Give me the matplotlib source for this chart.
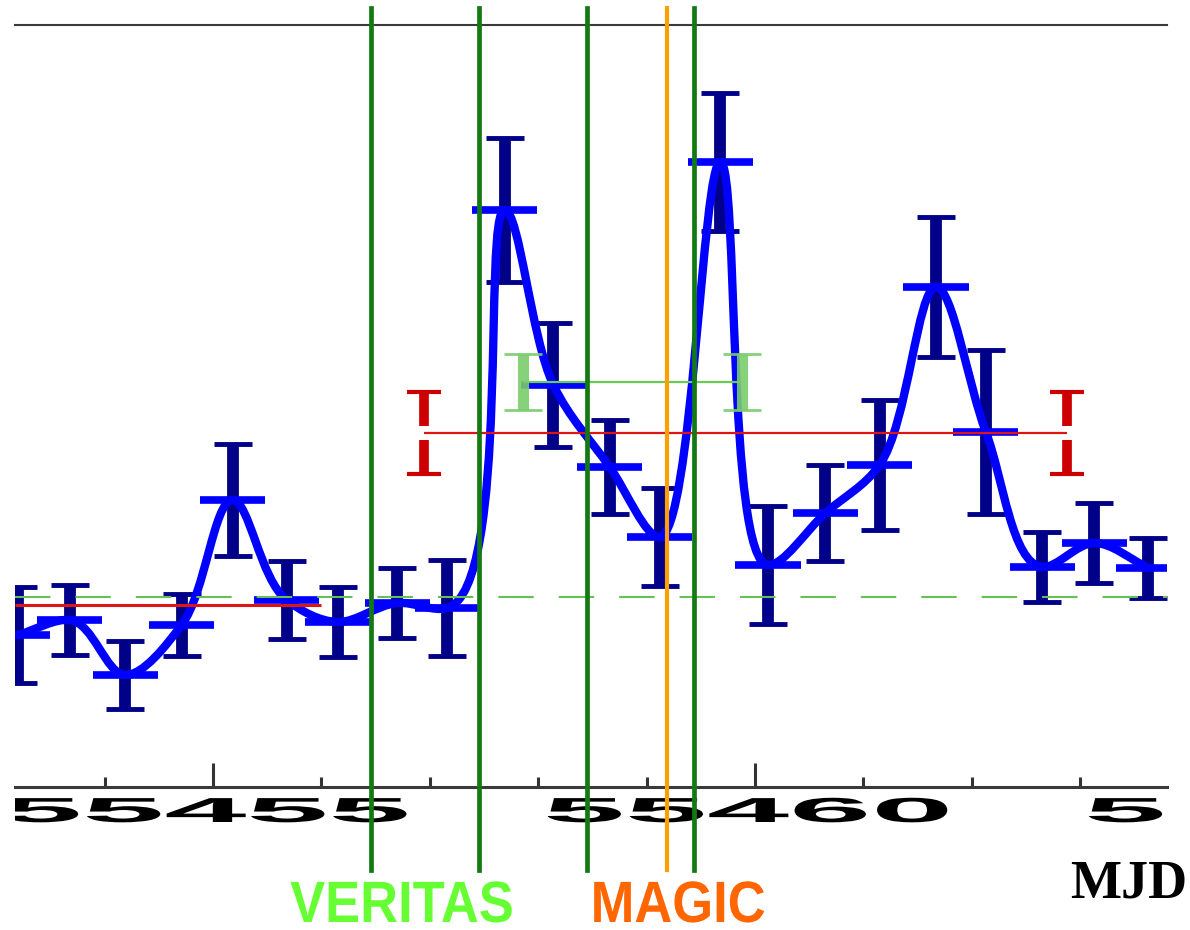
import numpy as np
import matplotlib
matplotlib.use("Agg")
import matplotlib.pyplot as plt
from matplotlib.path import Path
from matplotlib.patches import PathPatch
from matplotlib.ticker import MultipleLocator, FixedLocator, NullFormatter
from matplotlib.patheffects import AbstractPathEffect
from matplotlib.transforms import Affine2D, Bbox, TransformedBbox

# Fermi-LAT style light curve, 12 h bins
mjd = [55453.20, 55453.68, 55454.19, 55454.71, 55455.18, 55455.68, 55456.15,
       55456.70, 55457.16, 55457.69, 55458.14, 55458.66, 55459.12, 55459.68,
       55460.12, 55460.65, 55461.15, 55461.67, 55462.13, 55462.65, 55463.13,
       55463.63]
flux = [1.52, 1.67, 1.12, 1.62, 2.87, 1.87, 1.65, 1.84, 1.79, 5.77, 4.02,
        3.20, 2.50, 6.25, 2.22, 2.74, 3.22, 5.00, 3.55, 2.20, 2.44, 2.19]
flux_err = [0.48, 0.35, 0.34, 0.31, 0.56, 0.39, 0.35, 0.35, 0.48, 0.72, 0.62,
            0.47, 0.49, 0.69, 0.59, 0.48, 0.65, 0.70, 0.82, 0.35, 0.40, 0.30]
bin_half = 0.3

# quiescent level and average flux levels
baseline = 1.90
early_avg = 1.82
early_span = (55453.17, 55456.0)
flare_avg, flare_err = 3.54, 0.41
flare_span = (55456.95, 55462.88)
veritas_flux, veritas_err = 4.05, 0.28
veritas_span = (55457.86, 55459.88)

# observation windows
veritas_times = [55456.46, 55457.45, 55458.45, 55459.44]
magic_times = [55459.19]

major_ticks = [55455, 55460, 55465]


class HStretch(AbstractPathEffect):
    """Stretch a text path horizontally about its centre."""

    def __init__(self, sx):
        super().__init__()
        self.sx = sx

    def draw_path(self, renderer, gc, tpath, affine, rgbFace=None):
        bb = tpath.get_extents(affine)
        cx = 0.5 * (bb.x0 + bb.x1)
        tr = affine + Affine2D().translate(-cx, 0).scale(self.sx, 1).translate(cx, 0)
        renderer.draw_path(gc, tpath, tr, rgbFace)


def catmull_rom_path(x, y, xscale=42.0, yscale=100.0, alpha=0.5):
    # centripetal Catmull-Rom through the points, as cubic Bezier segments;
    # knot spacing measured in a screen-like frame
    p = np.column_stack([np.asarray(x) * xscale, np.asarray(y) * yscale])
    ext = np.vstack([2 * p[0] - p[1], p, 2 * p[-1] - p[-2]])
    knots = np.concatenate(
        [[0], np.cumsum(np.linalg.norm(np.diff(ext, axis=0), axis=1) ** alpha)])
    verts = [p[0]]
    codes = [Path.MOVETO]
    for i in range(1, len(ext) - 2):
        p0, p1, p2, p3 = ext[i - 1], ext[i], ext[i + 1], ext[i + 2]
        t0, t1, t2, t3 = knots[i - 1], knots[i], knots[i + 1], knots[i + 2]
        m1 = (p1 - p0) / (t1 - t0) - (p2 - p0) / (t2 - t0) + (p2 - p1) / (t2 - t1)
        m2 = (p2 - p1) / (t2 - t1) - (p3 - p1) / (t3 - t1) + (p3 - p2) / (t3 - t2)
        dt = t2 - t1
        verts += [p1 + m1 * dt / 3, p2 - m2 * dt / 3, p2]
        codes += [Path.CURVE4] * 3
    verts = np.array(verts) / [xscale, yscale]
    return Path(verts, codes)


fig = plt.figure(figsize=(11.9, 9.3), dpi=100)
ax = fig.add_axes([15 / 1190, 1 - 787 / 930, 1152 / 1190, 762 / 930])
ax.set_xlim(55453.173, 55463.801)
ax.set_ylim(0, 7.62)

# smoothed light curve and error bars
ax.errorbar(mjd, flux, yerr=flux_err, fmt='none', ecolor='#000088',
            elinewidth=8.5, capsize=14, capthick=3.5, zorder=2)
ax.add_patch(PathPatch(catmull_rom_path(mjd, flux), facecolor='none',
                       edgecolor='#0000ff', lw=6, capstyle='round',
                       joinstyle='round', zorder=3))
ax.errorbar(mjd, flux, xerr=bin_half, fmt='none', ecolor='#0000ff',
            elinewidth=5.5, capsize=0, zorder=3)

# baseline and averages
ax.axhline(baseline, color='#66c055', lw=1.5, ls=(0, (17, 12)), zorder=4)
ax.hlines(early_avg, *early_span, color='#dd1515', lw=2.2, zorder=4)
ax.hlines(flare_avg, *flare_span, color='#dd1515', lw=1.6, zorder=4)
ax.errorbar(flare_span, [flare_avg] * 2, yerr=flare_err, fmt='none',
            ecolor='#cc0000', elinewidth=0, capsize=12, capthick=3, zorder=4)
gap = 0.07
ax.vlines(flare_span, flare_avg + gap, flare_avg + flare_err,
          color='#cc0000', lw=7, zorder=4)
ax.vlines(flare_span, flare_avg - flare_err, flare_avg - gap,
          color='#cc0000', lw=7, zorder=4)
ax.hlines(veritas_flux, *veritas_span, color='#66cc55', lw=1.6, zorder=4)
ax.errorbar(veritas_span, [veritas_flux] * 2, yerr=veritas_err, fmt='none',
            ecolor='#7acc6c', elinewidth=8, capsize=14, capthick=2,
            alpha=0.9, zorder=4)

# observation windows
for t in veritas_times:
    ax.axvline(t, ymin=-0.109, ymax=1.022, color='#137a13', lw=3.4,
               clip_on=False, zorder=6)
for t in magic_times:
    ax.axvline(t, ymin=-0.109, ymax=1.022, color='#ff9f00', lw=3.0,
               clip_on=False, zorder=6)

# axes frame
for side in ['left', 'right']:
    ax.spines[side].set_visible(False)
ax.spines['top'].set_color('#3a3a3a')
ax.spines['top'].set_linewidth(1.5)
ax.spines['bottom'].set_color('#3a3a3a')
ax.spines['bottom'].set_linewidth(2.2)
ax.set_yticks([])
ax.xaxis.set_major_locator(FixedLocator(major_ticks))
ax.xaxis.set_minor_locator(MultipleLocator(1))
ax.xaxis.set_major_formatter(NullFormatter())
ax.tick_params(axis='x', which='major', direction='in', length=17.5,
               width=2.2, color='#333333', top=False)
ax.tick_params(axis='x', which='minor', direction='in', length=7,
               width=2.2, color='#333333', top=False)

# wide tick labels, cut at the plot edges
label_clip = TransformedBbox(Bbox([[15 / 1190, 0], [1167 / 1190, 1]]),
                             fig.transFigure)
for t in major_ticks:
    lbl = ax.text(t - 0.07, -35 / 762, str(t),
                  transform=ax.get_xaxis_transform(),
                  ha='center', va='baseline', fontsize=25, fontweight='bold',
                  family=['Liberation Sans', 'DejaVu Sans'], color='black')
    lbl.set_path_effects([HStretch(4.25)])
    lbl.set_clip_box(label_clip)
    lbl.set_clip_on(True)

sans = ['Liberation Sans', 'DejaVu Sans']
for label, xc, col in [('VERITAS', 402, '#66ff33'), ('MAGIC', 678, '#ff6600')]:
    txt = fig.text(xc / 1190, 1 - 922 / 930, label, ha='center',
                   va='baseline', fontsize=42, fontweight='bold',
                   family=sans, color=col)
    txt.set_path_effects([HStretch(0.9)])
fig.text(1129 / 1190, 1 - 884 / 930, 'MJD', ha='center', va='center',
         fontsize=39, fontweight='bold',
         family=['Liberation Serif', 'DejaVu Serif'], color='black')

fig.savefig('out.png', dpi=100)
